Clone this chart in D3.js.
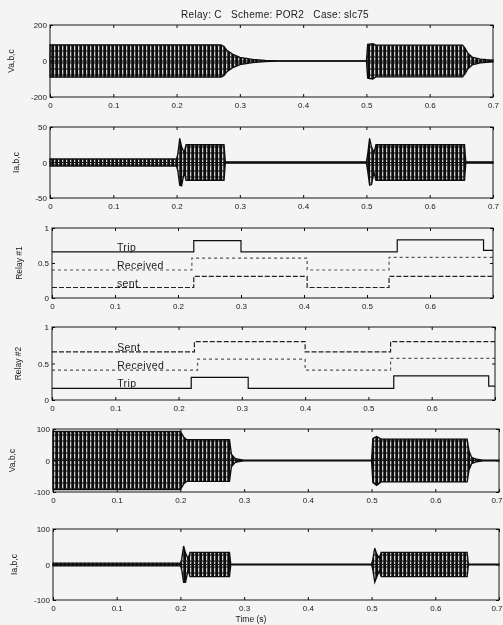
<!DOCTYPE html>
<html>
<head>
<meta charset="utf-8">
<script src="https://cdn.jsdelivr.net/npm/d3@7"></script>
<style>
  body { margin: 0; background: #f4f4f4; }
  text { font-family: "Liberation Sans", Arial, sans-serif; fill: #1a1a1a; }
</style>
</head>
<body>
<div id="main-frame"></div>
<script>
// ---- data ----
var title = "Relay: C   Scheme: POR2   Case: slc75";
var timeTicks = [0, 0.1, 0.2, 0.3, 0.4, 0.5, 0.6, 0.7];
var timeTickLabels = ["0", "0.1", "0.2", "0.3", "0.4", "0.5", "0.6", "0.7"];

// waveform envelopes: [time, upper, lower]
var va1Env = [[0, 90, -90], [0.27, 90, -90], [0.275, 80, -80], [0.28, 58, -58], [0.29, 35, -35],
  [0.30, 20, -20], [0.32, 9, -9], [0.34, 3, -3], [0.36, 1, -1], [0.50, 1, -1], [0.502, 92, -95],
  [0.51, 96, -100], [0.515, 88, -88], [0.652, 88, -88], [0.656, 70, -70], [0.66, 45, -45],
  [0.667, 22, -22], [0.68, 10, -10], [0.69, 7, -7], [0.70, 5, -5]];
var ia2Env = [[0, 5, -5], [0.2, 5, -5], [0.202, 12, -12], [0.205, 34, -32], [0.208, 22, -33],
  [0.212, 14, -14], [0.215, 25, -25], [0.275, 25, -25], [0.277, 1, -1], [0.50, 1, -1],
  [0.502, 12, -12], [0.505, 34, -32], [0.508, 22, -31], [0.512, 14, -14], [0.515, 25, -25],
  [0.655, 25, -25], [0.657, 1, -1], [0.70, 1, -1]];
var va5Env = [[0, 92, -92], [0.2, 92, -92], [0.205, 75, -75], [0.21, 66, -66], [0.277, 66, -66],
  [0.28, 20, -20], [0.285, 8, -8], [0.29, 4, -4], [0.30, 1, -1], [0.50, 1, -1], [0.502, 70, -70],
  [0.508, 76, -79], [0.515, 68, -68], [0.65, 68, -68], [0.653, 30, -30], [0.657, 10, -10],
  [0.665, 4, -4], [0.675, 1, -1], [0.70, 1, -1]];
var ia6Env = [[0, 4, -4], [0.2, 4, -4], [0.202, 15, -15], [0.205, 52, -50], [0.208, 32, -50],
  [0.212, 16, -16], [0.215, 34, -34], [0.277, 34, -34], [0.279, 1, -1], [0.50, 1, -1],
  [0.502, 15, -15], [0.505, 46, -50], [0.508, 30, -36], [0.512, 18, -18], [0.515, 34, -34],
  [0.65, 34, -34], [0.652, 1, -1], [0.70, 1, -1]];

// relay logic traces: [time, level] (step after)
var r1Trip = [[0, 0.66], [0.225, 0.82], [0.30, 0.66], [0.548, 0.83], [0.685, 0.68], [0.70, 0.68]];
var r1Received = [[0, 0.40], [0.222, 0.57], [0.405, 0.40], [0.535, 0.58], [0.70, 0.58]];
var r1Sent = [[0, 0.15], [0.225, 0.31], [0.405, 0.15], [0.535, 0.31], [0.70, 0.31]];
var r2Sent = [[0, 0.66], [0.225, 0.80], [0.40, 0.66], [0.535, 0.80], [0.70, 0.80]];
var r2Received = [[0, 0.41], [0.23, 0.56], [0.40, 0.41], [0.535, 0.57], [0.70, 0.57]];
var r2Trip = [[0, 0.16], [0.22, 0.31], [0.31, 0.16], [0.54, 0.33], [0.69, 0.19], [0.70, 0.19]];

var r1Labels = ["Trip", "Received", "sent"];
var r1LabelLevels = [0.66, 0.40, 0.15];
var r2Labels = ["Sent", "Received", "Trip"];
var r2LabelLevels = [0.66, 0.41, 0.16];

// ---- layout ----
var panels = [
  {box: [50, 493, 25, 97], ydom: [-200, 200], yticks: [-200, 0, 200], ylab: "Va,b,c", labX: 14, env: va1Env, xlabels: true},
  {box: [50, 493, 127, 198], ydom: [-50, 50], yticks: [-50, 0, 50], ylab: "Ia,b,c", labX: 19, env: ia2Env, xlabels: true},
  {box: [52, 493, 228, 298], ydom: [0, 1], yticks: [0, 0.5, 1], ylab: "Relay #1", labX: 22,
    steps: [r1Trip, r1Received, r1Sent], dash: [null, "3,3", "5,2"], shade: ["#111", "#555", "#222"],
    labels: r1Labels, levels: r1LabelLevels, xlabels: "no07"},
  {box: [52, 495, 327, 400], ydom: [0, 1], yticks: [0, 0.5, 1], ylab: "Relay #2", labX: 21,
    steps: [r2Sent, r2Received, r2Trip], dash: ["5,2", "3,3", null], shade: ["#222", "#555", "#111"],
    labels: r2Labels, levels: r2LabelLevels, xlabels: "no07"},
  {box: [53, 499, 429, 492], ydom: [-100, 100], yticks: [-100, 0, 100], ylab: "Va,b,c", labX: 15, env: va5Env, xlabels: true},
  {box: [53, 499, 529, 600], ydom: [-100, 100], yticks: [-100, 0, 100], ylab: "Ia,b,c", labX: 17, env: ia6Env, xlabels: true}
];

var W = 503, H = 625;
var svg = d3.select("#main-frame").append("svg")
  .attr("width", W).attr("height", H);

var defs = svg.append("defs");
defs.append("filter").attr("id", "scan")
  .append("feGaussianBlur").attr("stdDeviation", 0.45);
var pat = defs.append("pattern").attr("id", "wave")
  .attr("patternUnits", "userSpaceOnUse").attr("width", 4).attr("height", 6);
pat.append("rect").attr("width", 4).attr("height", 6).attr("fill", "#0d0d0d");
pat.append("rect").attr("x", 2).attr("width", 1.3).attr("height", 6).attr("fill", "#cfcfcf");
pat.append("rect").attr("x", 0).attr("y", 2.5).attr("width", 4).attr("height", 1).attr("fill", "#0d0d0d");

svg.append("rect").attr("width", W).attr("height", H).attr("fill", "#f4f4f4");
var root = svg.append("g").attr("filter", "url(#scan)");

root.append("text")
  .attr("x", 275).attr("y", 18)
  .attr("text-anchor", "middle")
  .style("font-size", "10px")
  .style("letter-spacing", "0.3px")
  .style("white-space", "pre")
  .attr("xml:space", "preserve")
  .text(title);

panels.forEach(function(p, i) {
  var x = d3.scaleLinear().domain([0, 0.7]).range([p.box[0], p.box[1]]);
  var y = d3.scaleLinear().domain(p.ydom).range([p.box[3], p.box[2]]);
  var g = root.append("g");

  if (p.env) {
    var area = d3.area()
      .x(function(d) { return x(d[0]); })
      .y0(function(d) { return y(d[2]); })
      .y1(function(d) { return y(d[1]); });
    g.append("path").datum(p.env)
      .attr("d", area)
      .attr("fill", "url(#wave)")
      .attr("stroke", "#0d0d0d").attr("stroke-width", 1.3);
    g.append("path").datum(p.env)
      .attr("d", d3.line().x(function(d) { return x(d[0]); }).y(y(0)))
      .attr("fill", "none").attr("stroke", "#0d0d0d").attr("stroke-width", 1.2);
  }

  if (p.steps) {
    var line = d3.line()
      .x(function(d) { return x(d[0]); })
      .y(function(d) { return y(d[1]); })
      .curve(d3.curveStepAfter);
    p.steps.forEach(function(s, k) {
      g.append("path").datum(s)
        .attr("d", line)
        .attr("fill", "none")
        .attr("stroke", p.shade[k])
        .attr("stroke-width", 1.2)
        .attr("stroke-dasharray", p.dash[k]);
    });
    p.labels.forEach(function(lab, k) {
      g.append("text")
        .attr("x", x(0.103)).attr("y", y(p.levels[k]) - 1)
        .style("font-size", "10.5px")
        .style("letter-spacing", "0.4px")
        .text(lab);
    });
  }

  // box
  g.append("rect")
    .attr("x", p.box[0]).attr("y", p.box[2])
    .attr("width", p.box[1] - p.box[0]).attr("height", p.box[3] - p.box[2])
    .attr("fill", "none").attr("stroke", "#111").attr("stroke-width", 1);

  // axes, MATLAB style inward ticks
  var xLabels = timeTickLabels.map(function(t, k) {
    return (p.xlabels === "no07" && k === timeTickLabels.length - 1) ? "" : t;
  });
  var xb = g.append("g").attr("transform", "translate(0," + p.box[3] + ")")
    .call(d3.axisBottom(x).tickValues(timeTicks).tickSize(-3).tickPadding(5)
      .tickFormat(function(d, k) { return xLabels[k]; }));
  // keep the last label inside the window
  xb.selectAll(".tick text").filter(function(d) { return x(d) + 6 > W; })
    .attr("text-anchor", "end").attr("dx", (W - 1 - p.box[1]) + "px");
  var xt = g.append("g").attr("transform", "translate(0," + p.box[2] + ")")
    .call(d3.axisTop(x).tickValues(timeTicks).tickSize(-3).tickFormat(""));
  var yl = g.append("g").attr("transform", "translate(" + p.box[0] + ",0)")
    .call(d3.axisLeft(y).tickValues(p.yticks).tickSize(-3).tickPadding(3)
      .tickFormat(function(d) { return String(d); }));
  var yr = g.append("g").attr("transform", "translate(" + p.box[1] + ",0)")
    .call(d3.axisRight(y).tickValues(p.yticks).tickSize(-3).tickFormat(""));
  [xb, xt, yl, yr].forEach(function(a) {
    a.select(".domain").remove();
    a.selectAll(".tick line").attr("stroke", "#111");
    a.selectAll("text").style("font-size", "8px")
      .style("font-family", "'Liberation Sans', Arial, sans-serif").attr("fill", "#1a1a1a");
  });

  g.append("text")
    .attr("transform", "translate(" + p.labX + "," + ((p.box[2] + p.box[3]) / 2) + ") rotate(-90)")
    .attr("text-anchor", "middle")
    .style("font-size", "8.5px")
    .text(p.ylab);

  if (i === panels.length - 1) {
    g.append("text")
      .attr("x", 251).attr("y", 622)
      .attr("text-anchor", "middle")
      .style("font-size", "8.5px")
      .text("Time (s)");
  }
});
</script>
</body>
</html>
